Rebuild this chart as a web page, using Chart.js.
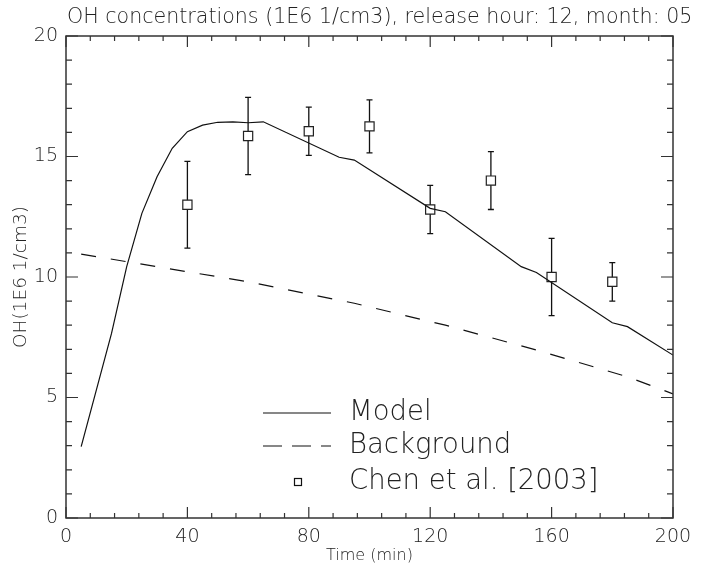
<!DOCTYPE html>
<html>
<head>
<meta charset="utf-8">
<script src="https://cdn.jsdelivr.net/npm/chart.js@4.4.0/dist/chart.umd.min.js"></script>
<style>
  html, body { margin: 0; padding: 0; background: #fff; }
</style>
</head>
<body>
<canvas id="ohChart" width="702" height="565"></canvas>
<script>
// values
const modelTime = [5, 15, 20, 25, 30, 35, 40, 45, 50, 55, 60, 65, 90, 95, 120, 125, 150, 155, 180, 185, 200];
const modelOH = [2.96, 7.66, 10.43, 12.64, 14.16, 15.34, 16.03, 16.3, 16.42, 16.44, 16.4, 16.44, 14.97, 14.85, 12.85, 12.71, 10.43, 10.19, 8.1, 7.94, 6.76];

const bgTime = [5, 60, 95, 125, 155, 185, 200];
const bgOH = [10.95, 9.8, 8.91, 8.0, 6.97, 5.86, 5.15];

const chenTime = [40, 60, 80, 100, 120, 140, 160, 180];
const chenOH = [13.0, 15.85, 16.05, 16.25, 12.8, 14.0, 10.0, 9.8];
const chenErr = [1.8, 1.6, 1.0, 1.1, 1.0, 1.2, 1.6, 0.8];

const xTickStep = 40, xMinorStep = 8;
const yTickStep = 5, yMinorStep = 1;

const titleText = 'OH concentrations (1E6 1/cm3), release hour: 12, month: 05';
const legendLabels = ['Model', 'Background', 'Chen et al. [2003]'];

const FONT = '"DejaVu Sans", "Liberation Sans", sans-serif';
const INK = '#222';

function toXY(xs, ys) {
  return xs.map((x, i) => ({ x: x, y: ys[i] }));
}

// error bars under the square markers
const errorBars = {
  id: 'errorBars',
  beforeDatasetsDraw(chart) {
    const { ctx, scales: { x, y } } = chart;
    ctx.save();
    ctx.strokeStyle = '#111';
    ctx.lineWidth = 1.3;
    chenTime.forEach((t, i) => {
      const px = x.getPixelForValue(t);
      const top = y.getPixelForValue(chenOH[i] + chenErr[i]);
      const bot = y.getPixelForValue(chenOH[i] - chenErr[i]);
      ctx.beginPath();
      ctx.moveTo(px, top); ctx.lineTo(px, bot);
      ctx.moveTo(px - 3, top); ctx.lineTo(px + 3, top);
      ctx.moveTo(px - 3, bot); ctx.lineTo(px + 3, bot);
      ctx.stroke();
    });
    ctx.restore();
  }
};

// box frame with inward ticks, title and legend
const frame = {
  id: 'frame',
  afterDraw(chart) {
    const { ctx, chartArea: a, scales: { x, y } } = chart;
    ctx.save();
    ctx.strokeStyle = '#333';
    ctx.lineWidth = 1.5;
    ctx.strokeRect(a.left, a.top, a.right - a.left, a.bottom - a.top);

    ctx.lineWidth = 1.2;
    ctx.beginPath();
    for (let v = x.min; v <= x.max + 1e-9; v += xMinorStep) {
      const px = x.getPixelForValue(v);
      const len = (v % xTickStep === 0) ? 11 : 5;
      ctx.moveTo(px, a.bottom); ctx.lineTo(px, a.bottom - len);
      ctx.moveTo(px, a.top); ctx.lineTo(px, a.top + len);
    }
    for (let v = y.min; v <= y.max + 1e-9; v += yMinorStep) {
      const py = y.getPixelForValue(v);
      const len = (v % yTickStep === 0) ? 12 : 6;
      ctx.moveTo(a.left, py); ctx.lineTo(a.left + len, py);
      ctx.moveTo(a.right, py); ctx.lineTo(a.right - len, py);
    }
    ctx.stroke();

    // title
    ctx.fillStyle = INK;
    ctx.font = '200 20.6px ' + FONT;
    ctx.textBaseline = 'middle';
    ctx.textAlign = 'left';
    ctx.fillText(titleText, a.left + 1, 18);

    // legend
    const lx0 = 263, lx1 = 331, tx = 349;
    const rows = [413, 446, 482];
    ctx.font = '200 27.5px ' + FONT;
    ctx.strokeStyle = '#111';
    ctx.lineWidth = 1.2;
    ctx.beginPath();
    ctx.moveTo(lx0, rows[0]); ctx.lineTo(lx1, rows[0]);
    ctx.stroke();
    ctx.setLineDash([19, 10]);
    ctx.beginPath();
    ctx.moveTo(lx0, rows[1]); ctx.lineTo(lx1, rows[1]);
    ctx.stroke();
    ctx.setLineDash([]);
    ctx.strokeRect(294.5, rows[2] - 3.5, 7, 7);
    legendLabels.forEach((lab, i) => ctx.fillText(lab, tx, rows[i]));
    ctx.restore();
  }
};

const ctx = document.getElementById('ohChart').getContext('2d');
const ohChart = new Chart(ctx, {
  type: 'line',
  data: {
    datasets: [
      {
        label: legendLabels[0],
        data: toXY(modelTime, modelOH),
        borderColor: '#111',
        borderWidth: 1.2,
        pointRadius: 0,
        tension: 0
      },
      {
        label: legendLabels[1],
        data: toXY(bgTime, bgOH),
        borderColor: '#111',
        borderWidth: 1.2,
        borderDash: [15, 15],
        pointRadius: 0,
        tension: 0
      },
      {
        label: legendLabels[2],
        data: toXY(chenTime, chenOH),
        showLine: false,
        pointStyle: 'rect',
        pointRadius: 6.5,
        pointBackgroundColor: '#fff',
        pointBorderColor: '#222',
        pointBorderWidth: 1.2
      }
    ]
  },
  options: {
    responsive: false,
    animation: false,
    layout: { padding: { top: 36, right: 29, left: 0, bottom: 0 } },
    plugins: {
      legend: { display: false },
      title: { display: false },
      tooltip: { enabled: false }
    },
    scales: {
      x: {
        type: 'linear',
        min: 0,
        max: 200,
        grid: { display: false, drawTicks: false },
        border: { display: false },
        ticks: { stepSize: xTickStep, color: INK, padding: 8, maxRotation: 0, font: { family: FONT, size: 19, weight: '200' } },
        title: { display: true, text: 'Time (min)', color: INK, padding: { top: 0, bottom: 0 }, font: { family: FONT, size: 16, weight: '200' } },
        afterFit(scale) { scale.height = 47; }
      },
      y: {
        min: 0,
        max: 20,
        grid: { display: false, drawTicks: false },
        border: { display: false },
        ticks: { stepSize: yTickStep, color: INK, padding: 8, font: { family: FONT, size: 19, weight: '200' } },
        title: { display: true, text: 'OH(1E6 1/cm3)', color: INK, padding: { top: 10, bottom: 4 }, font: { family: FONT, size: 18.5, weight: '200' } },
        afterFit(scale) { scale.width = 66; }
      }
    }
  },
  plugins: [errorBars, frame]
});
</script>
</body>
</html>
